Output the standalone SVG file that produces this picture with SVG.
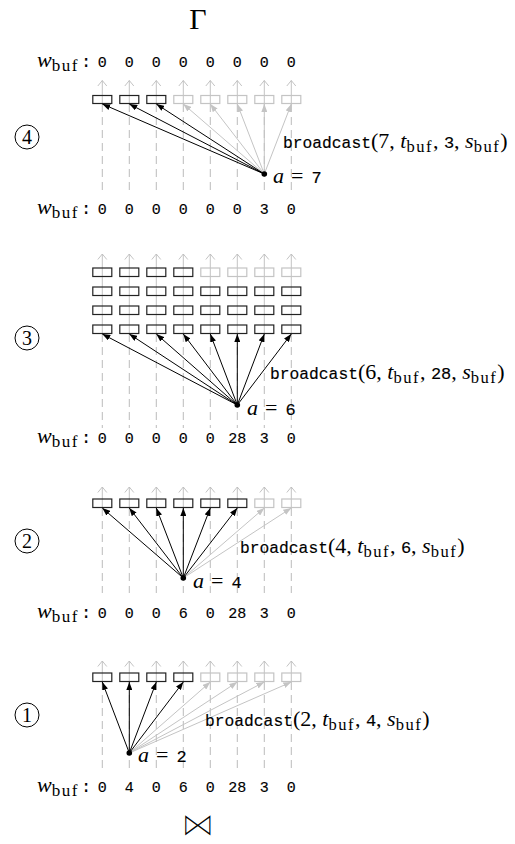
<svg xmlns="http://www.w3.org/2000/svg" xmlns:xlink="http://www.w3.org/1999/xlink" width="515" height="844" viewBox="0 0 515 844">
<style>
.ser{font-family:"Liberation Serif",serif;}
.dig{font-family:"Liberation Mono",monospace;font-size:15px;text-anchor:middle;fill:#000;stroke:#000;stroke-width:0.15;}
.bx{fill:none;stroke:#222;stroke-width:1.2;}
.bxg{fill:none;stroke:#c4c4c4;stroke-width:1.2;}
.dash{stroke:#b4b4b4;stroke-width:0.9;stroke-dasharray:8 5;}
.stem{stroke:#bcbcbc;stroke-width:0.9;}
.chev{fill:none;stroke:#bcbcbc;stroke-width:0.9;}
.ab{stroke:#000;stroke-width:1;marker-end:url(#hb);}
.ag{stroke:#c4c4c4;stroke-width:1;marker-end:url(#hg);}
.circ{fill:none;stroke:#000;stroke-width:1;}
.num{font-family:"Liberation Serif",serif;font-size:20px;text-anchor:middle;}
.m{font-family:"Liberation Serif",serif;font-size:22px;}
.mi{font-family:"Liberation Serif",serif;font-size:22px;font-style:italic;}
.sb{font-family:"Liberation Serif",serif;font-size:16.5px;letter-spacing:1.5px;}
.wsb{font-family:"Liberation Serif",serif;font-size:17px;letter-spacing:1.5px;}
.bc{font-family:"Liberation Mono",monospace;font-size:16.3px;stroke:#000;stroke-width:0.15;}
.md{font-family:"Liberation Mono",monospace;font-size:17px;stroke:#000;stroke-width:0.15;}
</style>
<defs>
<marker id="hb" markerUnits="userSpaceOnUse" markerWidth="8" markerHeight="6" viewBox="0 0 8 6" refX="8" refY="3" orient="auto"><path d="M0,0 L8,3 L0,6 z" fill="#000"/></marker>
<marker id="hg" markerUnits="userSpaceOnUse" markerWidth="8" markerHeight="6" viewBox="0 0 8 6" refX="8" refY="3" orient="auto"><path d="M0,0 L8,3 L0,6 z" fill="#c4c4c4"/></marker>
<polyline id="chev" class="chev" points="-4.5,5.5 0,0 4.5,5.5"/>
</defs>

<g id="gamma"><text class="ser" x="198" y="29" font-size="30" text-anchor="middle">Γ</text></g>

<!-- Panel 4 -->
<g id="step4">
  <g id="step4-label"><circle class="circ" cx="27" cy="137" r="12"/><text class="num" x="27" y="144">4</text></g>
  <g id="step4-wtop">
    <text x="37" y="67"><tspan class="mi" font-size="20">w</tspan><tspan class="wsb" dy="4">buf</tspan><tspan class="md" font-size="15" dy="-4" x="81">:</tspan></text>
    <text class="dig" y="67"><tspan x="102.3">0</tspan><tspan x="129.3">0</tspan><tspan x="156.3">0</tspan><tspan x="183.3">0</tspan><tspan x="210.3">0</tspan><tspan x="237.3">0</tspan><tspan x="264.3">0</tspan><tspan x="291.3">0</tspan></text>
  </g>
  <g id="step4-columns">
    <line class="stem" x1="102.3" y1="80.5" x2="102.3" y2="104"/><line class="stem" x1="129.3" y1="80.5" x2="129.3" y2="104"/><line class="stem" x1="156.3" y1="80.5" x2="156.3" y2="104"/><line class="stem" x1="183.3" y1="80.5" x2="183.3" y2="104"/><line class="stem" x1="210.3" y1="80.5" x2="210.3" y2="104"/><line class="stem" x1="237.3" y1="80.5" x2="237.3" y2="104"/><line class="stem" x1="264.3" y1="80.5" x2="264.3" y2="104"/><line class="stem" x1="291.3" y1="80.5" x2="291.3" y2="104"/>
    <use href="#chev" x="102.3" y="80.5"/><use href="#chev" x="129.3" y="80.5"/><use href="#chev" x="156.3" y="80.5"/><use href="#chev" x="183.3" y="80.5"/><use href="#chev" x="210.3" y="80.5"/><use href="#chev" x="237.3" y="80.5"/><use href="#chev" x="264.3" y="80.5"/><use href="#chev" x="291.3" y="80.5"/>
    <line class="dash" x1="102.3" y1="104" x2="102.3" y2="190"/><line class="dash" x1="129.3" y1="104" x2="129.3" y2="190"/><line class="dash" x1="156.3" y1="104" x2="156.3" y2="190"/><line class="dash" x1="183.3" y1="104" x2="183.3" y2="190"/><line class="dash" x1="210.3" y1="104" x2="210.3" y2="190"/><line class="dash" x1="237.3" y1="104" x2="237.3" y2="190"/><line class="dash" x1="264.3" y1="104" x2="264.3" y2="190"/><line class="dash" x1="291.3" y1="104" x2="291.3" y2="190"/>
  </g>
  <g id="step4-boxes">
    <rect class="bx" x="92.8" y="95.5" width="19" height="8"/><rect class="bx" x="119.8" y="95.5" width="19" height="8"/><rect class="bx" x="146.8" y="95.5" width="19" height="8"/>
    <rect class="bxg" x="173.8" y="95.5" width="19" height="8"/><rect class="bxg" x="200.8" y="95.5" width="19" height="8"/><rect class="bxg" x="227.8" y="95.5" width="19" height="8"/><rect class="bxg" x="254.8" y="95.5" width="19" height="8"/><rect class="bxg" x="281.8" y="95.5" width="19" height="8"/>
  </g>
  <g id="step4-connectors">
    <line class="ag" x1="264.3" y1="174" x2="183.3" y2="104"/><line class="ag" x1="264.3" y1="174" x2="210.3" y2="104"/><line class="ag" x1="264.3" y1="174" x2="237.3" y2="104"/><line class="ag" x1="264.3" y1="174" x2="264.3" y2="104"/><line class="ag" x1="264.3" y1="174" x2="291.3" y2="104"/>
    <line class="ab" x1="264.3" y1="174" x2="102.3" y2="104"/><line class="ab" x1="264.3" y1="174" x2="129.3" y2="104"/><line class="ab" x1="264.3" y1="174" x2="156.3" y2="104"/>
  </g>
  <g id="step4-source"><circle cx="264.3" cy="174" r="2.8" fill="#000"/>
    <text y="183"><tspan class="mi" x="273">a</tspan><tspan class="m" x="291">=</tspan><tspan class="md" x="311.5">7</tspan></text>
    <text x="283" y="148"><tspan class="bc">broadcast</tspan><tspan class="m">(7, </tspan><tspan class="mi">t</tspan><tspan class="sb" dy="4">buf</tspan><tspan class="m" dy="-4">, </tspan><tspan class="md">3</tspan><tspan class="m">, </tspan><tspan class="mi">s</tspan><tspan class="sb" dy="4">buf</tspan><tspan class="m" dy="-4">)</tspan></text>
  </g>
  <g id="step4-wbot">
    <text x="37" y="214"><tspan class="mi" font-size="20">w</tspan><tspan class="wsb" dy="4">buf</tspan><tspan class="md" font-size="15" dy="-4" x="81">:</tspan></text>
    <text class="dig" y="214"><tspan x="102.3">0</tspan><tspan x="129.3">0</tspan><tspan x="156.3">0</tspan><tspan x="183.3">0</tspan><tspan x="210.3">0</tspan><tspan x="237.3">0</tspan><tspan x="264.3">3</tspan><tspan x="291.3">0</tspan></text>
  </g>
</g>

<!-- Panel 3 -->
<g id="step3">
  <g id="step3-label"><circle class="circ" cx="27" cy="338" r="12"/><text class="num" x="27" y="345">3</text></g>
  <g id="step3-columns">
    <line class="stem" x1="102.3" y1="254" x2="102.3" y2="334"/><line class="stem" x1="129.3" y1="254" x2="129.3" y2="334"/><line class="stem" x1="156.3" y1="254" x2="156.3" y2="334"/><line class="stem" x1="183.3" y1="254" x2="183.3" y2="334"/><line class="stem" x1="210.3" y1="254" x2="210.3" y2="334"/><line class="stem" x1="237.3" y1="254" x2="237.3" y2="334"/><line class="stem" x1="264.3" y1="254" x2="264.3" y2="334"/><line class="stem" x1="291.3" y1="254" x2="291.3" y2="334"/>
    <use href="#chev" x="102.3" y="254"/><use href="#chev" x="129.3" y="254"/><use href="#chev" x="156.3" y="254"/><use href="#chev" x="183.3" y="254"/><use href="#chev" x="210.3" y="254"/><use href="#chev" x="237.3" y="254"/><use href="#chev" x="264.3" y="254"/><use href="#chev" x="291.3" y="254"/>
    <line class="dash" x1="102.3" y1="334" x2="102.3" y2="428"/><line class="dash" x1="129.3" y1="334" x2="129.3" y2="428"/><line class="dash" x1="156.3" y1="334" x2="156.3" y2="428"/><line class="dash" x1="183.3" y1="334" x2="183.3" y2="428"/><line class="dash" x1="210.3" y1="334" x2="210.3" y2="428"/><line class="dash" x1="237.3" y1="334" x2="237.3" y2="428"/><line class="dash" x1="264.3" y1="334" x2="264.3" y2="428"/><line class="dash" x1="291.3" y1="334" x2="291.3" y2="428"/>
  </g>
  <g id="step3-boxes">
    <rect class="bx" x="92.8" y="268" width="19" height="8.5"/><rect class="bx" x="119.8" y="268" width="19" height="8.5"/><rect class="bx" x="146.8" y="268" width="19" height="8.5"/><rect class="bx" x="173.8" y="268" width="19" height="8.5"/>
    <rect class="bxg" x="200.8" y="268" width="19" height="8.5"/><rect class="bxg" x="227.8" y="268" width="19" height="8.5"/><rect class="bxg" x="254.8" y="268" width="19" height="8.5"/><rect class="bxg" x="281.8" y="268" width="19" height="8.5"/>
    <rect class="bx" x="92.8" y="287" width="19" height="8.5"/><rect class="bx" x="119.8" y="287" width="19" height="8.5"/><rect class="bx" x="146.8" y="287" width="19" height="8.5"/><rect class="bx" x="173.8" y="287" width="19" height="8.5"/><rect class="bx" x="200.8" y="287" width="19" height="8.5"/><rect class="bx" x="227.8" y="287" width="19" height="8.5"/><rect class="bx" x="254.8" y="287" width="19" height="8.5"/><rect class="bx" x="281.8" y="287" width="19" height="8.5"/>
    <rect class="bx" x="92.8" y="306" width="19" height="8.5"/><rect class="bx" x="119.8" y="306" width="19" height="8.5"/><rect class="bx" x="146.8" y="306" width="19" height="8.5"/><rect class="bx" x="173.8" y="306" width="19" height="8.5"/><rect class="bx" x="200.8" y="306" width="19" height="8.5"/><rect class="bx" x="227.8" y="306" width="19" height="8.5"/><rect class="bx" x="254.8" y="306" width="19" height="8.5"/><rect class="bx" x="281.8" y="306" width="19" height="8.5"/>
    <rect class="bx" x="92.8" y="325" width="19" height="8.5"/><rect class="bx" x="119.8" y="325" width="19" height="8.5"/><rect class="bx" x="146.8" y="325" width="19" height="8.5"/><rect class="bx" x="173.8" y="325" width="19" height="8.5"/><rect class="bx" x="200.8" y="325" width="19" height="8.5"/><rect class="bx" x="227.8" y="325" width="19" height="8.5"/><rect class="bx" x="254.8" y="325" width="19" height="8.5"/><rect class="bx" x="281.8" y="325" width="19" height="8.5"/>
  </g>
  <g id="step3-connectors">
    <line class="ab" x1="237.3" y1="405" x2="102.3" y2="334"/><line class="ab" x1="237.3" y1="405" x2="129.3" y2="334"/><line class="ab" x1="237.3" y1="405" x2="156.3" y2="334"/><line class="ab" x1="237.3" y1="405" x2="183.3" y2="334"/><line class="ab" x1="237.3" y1="405" x2="210.3" y2="334"/><line class="ab" x1="237.3" y1="405" x2="237.3" y2="334"/><line class="ab" x1="237.3" y1="405" x2="264.3" y2="334"/><line class="ab" x1="237.3" y1="405" x2="291.3" y2="334"/>
  </g>
  <g id="step3-source"><circle cx="237.3" cy="405" r="2.8" fill="#000"/>
    <text y="415"><tspan class="mi" x="247">a</tspan><tspan class="m" x="265">=</tspan><tspan class="md" x="285.5">6</tspan></text>
    <text x="270" y="379"><tspan class="bc">broadcast</tspan><tspan class="m">(6, </tspan><tspan class="mi">t</tspan><tspan class="sb" dy="4">buf</tspan><tspan class="m" dy="-4">, </tspan><tspan class="md">28</tspan><tspan class="m">, </tspan><tspan class="mi">s</tspan><tspan class="sb" dy="4">buf</tspan><tspan class="m" dy="-4">)</tspan></text>
  </g>
  <g id="step3-wbot">
    <text x="37" y="443"><tspan class="mi" font-size="20">w</tspan><tspan class="wsb" dy="4">buf</tspan><tspan class="md" font-size="15" dy="-4" x="81">:</tspan></text>
    <text class="dig" y="443"><tspan x="102.3">0</tspan><tspan x="129.3">0</tspan><tspan x="156.3">0</tspan><tspan x="183.3">0</tspan><tspan x="210.3">0</tspan><tspan x="237.3">28</tspan><tspan x="264.3">3</tspan><tspan x="291.3">0</tspan></text>
  </g>
</g>

<!-- Panel 2 -->
<g id="step2">
  <g id="step2-label"><circle class="circ" cx="27" cy="541" r="12"/><text class="num" x="27" y="548">2</text></g>
  <g id="step2-columns">
    <line class="stem" x1="102.3" y1="487" x2="102.3" y2="508"/><line class="stem" x1="129.3" y1="487" x2="129.3" y2="508"/><line class="stem" x1="156.3" y1="487" x2="156.3" y2="508"/><line class="stem" x1="183.3" y1="487" x2="183.3" y2="508"/><line class="stem" x1="210.3" y1="487" x2="210.3" y2="508"/><line class="stem" x1="237.3" y1="487" x2="237.3" y2="508"/><line class="stem" x1="264.3" y1="487" x2="264.3" y2="508"/><line class="stem" x1="291.3" y1="487" x2="291.3" y2="508"/>
    <use href="#chev" x="102.3" y="487"/><use href="#chev" x="129.3" y="487"/><use href="#chev" x="156.3" y="487"/><use href="#chev" x="183.3" y="487"/><use href="#chev" x="210.3" y="487"/><use href="#chev" x="237.3" y="487"/><use href="#chev" x="264.3" y="487"/><use href="#chev" x="291.3" y="487"/>
    <line class="dash" x1="102.3" y1="508" x2="102.3" y2="593"/><line class="dash" x1="129.3" y1="508" x2="129.3" y2="593"/><line class="dash" x1="156.3" y1="508" x2="156.3" y2="593"/><line class="dash" x1="183.3" y1="508" x2="183.3" y2="593"/><line class="dash" x1="210.3" y1="508" x2="210.3" y2="593"/><line class="dash" x1="237.3" y1="508" x2="237.3" y2="593"/><line class="dash" x1="264.3" y1="508" x2="264.3" y2="593"/><line class="dash" x1="291.3" y1="508" x2="291.3" y2="593"/>
  </g>
  <g id="step2-boxes">
    <rect class="bx" x="92.8" y="499" width="19" height="8.5"/><rect class="bx" x="119.8" y="499" width="19" height="8.5"/><rect class="bx" x="146.8" y="499" width="19" height="8.5"/><rect class="bx" x="173.8" y="499" width="19" height="8.5"/><rect class="bx" x="200.8" y="499" width="19" height="8.5"/><rect class="bx" x="227.8" y="499" width="19" height="8.5"/>
    <rect class="bxg" x="254.8" y="499" width="19" height="8.5"/><rect class="bxg" x="281.8" y="499" width="19" height="8.5"/>
  </g>
  <g id="step2-connectors">
    <line class="ag" x1="183.3" y1="578" x2="264.3" y2="508"/><line class="ag" x1="183.3" y1="578" x2="291.3" y2="508"/>
    <line class="ab" x1="183.3" y1="578" x2="102.3" y2="508"/><line class="ab" x1="183.3" y1="578" x2="129.3" y2="508"/><line class="ab" x1="183.3" y1="578" x2="156.3" y2="508"/><line class="ab" x1="183.3" y1="578" x2="183.3" y2="508"/><line class="ab" x1="183.3" y1="578" x2="210.3" y2="508"/><line class="ab" x1="183.3" y1="578" x2="237.3" y2="508"/>
  </g>
  <g id="step2-source"><circle cx="183.3" cy="578" r="2.8" fill="#000"/>
    <text y="588"><tspan class="mi" x="193">a</tspan><tspan class="m" x="211">=</tspan><tspan class="md" x="231.5">4</tspan></text>
    <text x="240" y="553"><tspan class="bc">broadcast</tspan><tspan class="m">(4, </tspan><tspan class="mi">t</tspan><tspan class="sb" dy="4">buf</tspan><tspan class="m" dy="-4">, </tspan><tspan class="md">6</tspan><tspan class="m">, </tspan><tspan class="mi">s</tspan><tspan class="sb" dy="4">buf</tspan><tspan class="m" dy="-4">)</tspan></text>
  </g>
  <g id="step2-wbot">
    <text x="37" y="618"><tspan class="mi" font-size="20">w</tspan><tspan class="wsb" dy="4">buf</tspan><tspan class="md" font-size="15" dy="-4" x="81">:</tspan></text>
    <text class="dig" y="618"><tspan x="102.3">0</tspan><tspan x="129.3">0</tspan><tspan x="156.3">0</tspan><tspan x="183.3">6</tspan><tspan x="210.3">0</tspan><tspan x="237.3">28</tspan><tspan x="264.3">3</tspan><tspan x="291.3">0</tspan></text>
  </g>
</g>

<!-- Panel 1 -->
<g id="step1">
  <g id="step1-label"><circle class="circ" cx="27" cy="715" r="12"/><text class="num" x="27" y="722">1</text></g>
  <g id="step1-columns">
    <line class="stem" x1="102.3" y1="661" x2="102.3" y2="682"/><line class="stem" x1="129.3" y1="661" x2="129.3" y2="682"/><line class="stem" x1="156.3" y1="661" x2="156.3" y2="682"/><line class="stem" x1="183.3" y1="661" x2="183.3" y2="682"/><line class="stem" x1="210.3" y1="661" x2="210.3" y2="682"/><line class="stem" x1="237.3" y1="661" x2="237.3" y2="682"/><line class="stem" x1="264.3" y1="661" x2="264.3" y2="682"/><line class="stem" x1="291.3" y1="661" x2="291.3" y2="682"/>
    <use href="#chev" x="102.3" y="661"/><use href="#chev" x="129.3" y="661"/><use href="#chev" x="156.3" y="661"/><use href="#chev" x="183.3" y="661"/><use href="#chev" x="210.3" y="661"/><use href="#chev" x="237.3" y="661"/><use href="#chev" x="264.3" y="661"/><use href="#chev" x="291.3" y="661"/>
    <line class="dash" x1="102.3" y1="682" x2="102.3" y2="768"/><line class="dash" x1="129.3" y1="682" x2="129.3" y2="768"/><line class="dash" x1="156.3" y1="682" x2="156.3" y2="768"/><line class="dash" x1="183.3" y1="682" x2="183.3" y2="768"/><line class="dash" x1="210.3" y1="682" x2="210.3" y2="768"/><line class="dash" x1="237.3" y1="682" x2="237.3" y2="768"/><line class="dash" x1="264.3" y1="682" x2="264.3" y2="768"/><line class="dash" x1="291.3" y1="682" x2="291.3" y2="768"/>
  </g>
  <g id="step1-boxes">
    <rect class="bx" x="92.8" y="673" width="19" height="8.5"/><rect class="bx" x="119.8" y="673" width="19" height="8.5"/><rect class="bx" x="146.8" y="673" width="19" height="8.5"/><rect class="bx" x="173.8" y="673" width="19" height="8.5"/>
    <rect class="bxg" x="200.8" y="673" width="19" height="8.5"/><rect class="bxg" x="227.8" y="673" width="19" height="8.5"/><rect class="bxg" x="254.8" y="673" width="19" height="8.5"/><rect class="bxg" x="281.8" y="673" width="19" height="8.5"/>
  </g>
  <g id="step1-connectors">
    <line class="ag" x1="129.3" y1="753" x2="210.3" y2="682"/><line class="ag" x1="129.3" y1="753" x2="237.3" y2="682"/><line class="ag" x1="129.3" y1="753" x2="264.3" y2="682"/><line class="ag" x1="129.3" y1="753" x2="291.3" y2="682"/>
    <line class="ab" x1="129.3" y1="753" x2="102.3" y2="682"/><line class="ab" x1="129.3" y1="753" x2="129.3" y2="682"/><line class="ab" x1="129.3" y1="753" x2="156.3" y2="682"/><line class="ab" x1="129.3" y1="753" x2="183.3" y2="682"/>
  </g>
  <g id="step1-source"><circle cx="129.3" cy="753" r="2.8" fill="#000"/>
    <text y="762"><tspan class="mi" x="138">a</tspan><tspan class="m" x="156">=</tspan><tspan class="md" x="176.5">2</tspan></text>
    <text x="205" y="726"><tspan class="bc">broadcast</tspan><tspan class="m">(2, </tspan><tspan class="mi">t</tspan><tspan class="sb" dy="4">buf</tspan><tspan class="m" dy="-4">, </tspan><tspan class="md">4</tspan><tspan class="m">, </tspan><tspan class="mi">s</tspan><tspan class="sb" dy="4">buf</tspan><tspan class="m" dy="-4">)</tspan></text>
  </g>
  <g id="step1-wbot">
    <text x="37" y="792"><tspan class="mi" font-size="20">w</tspan><tspan class="wsb" dy="4">buf</tspan><tspan class="md" font-size="15" dy="-4" x="81">:</tspan></text>
    <text class="dig" y="792"><tspan x="102.3">0</tspan><tspan x="129.3">4</tspan><tspan x="156.3">0</tspan><tspan x="183.3">6</tspan><tspan x="210.3">0</tspan><tspan x="237.3">28</tspan><tspan x="264.3">3</tspan><tspan x="291.3">0</tspan></text>
  </g>
</g>

<g id="bowtie"><text x="197.5" y="836" font-family="'DejaVu Sans', sans-serif" font-size="34" text-anchor="middle" fill="#000" stroke="#fff" stroke-width="1.5">⋈</text></g>
</svg>
